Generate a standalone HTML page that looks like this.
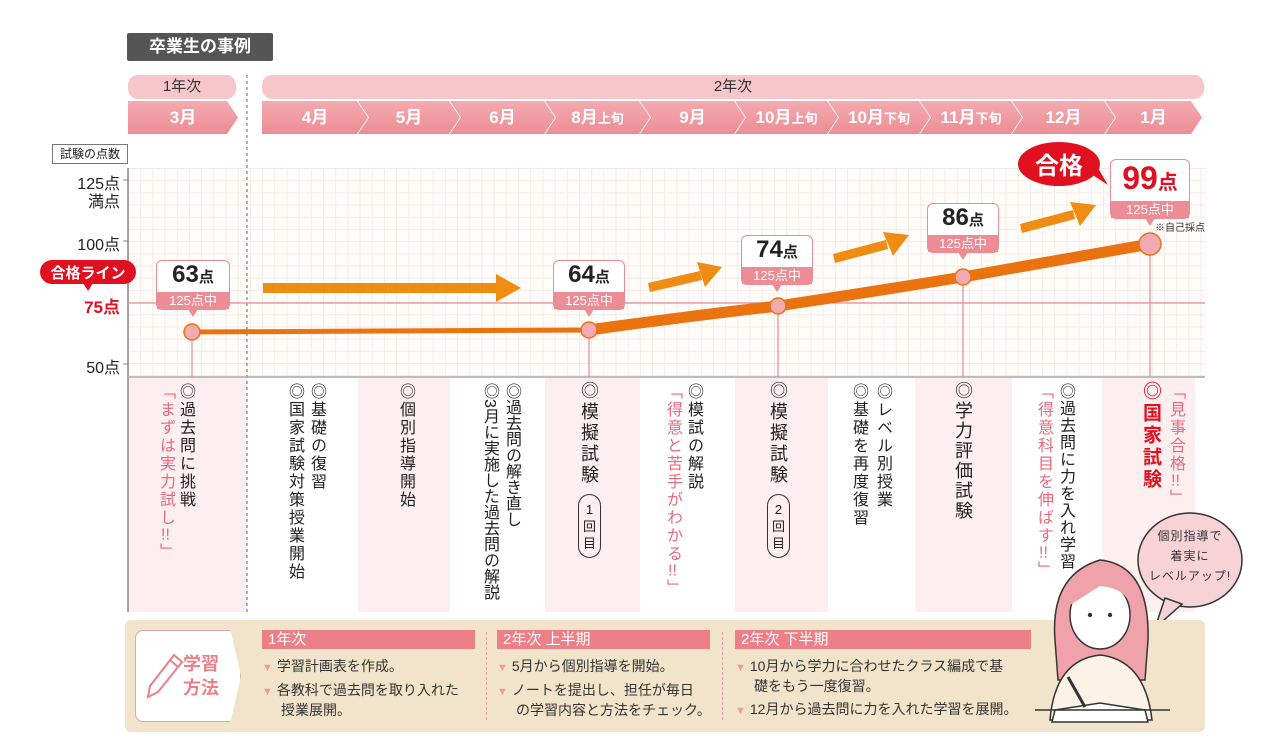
<!DOCTYPE html>
<html><head><meta charset="utf-8">
<style>
*{margin:0;padding:0;box-sizing:border-box}
body{width:1280px;height:755px;background:#fff;position:relative;overflow:hidden;font-family:"Liberation Sans","Noto Sans CJK JP",sans-serif;color:#222}
.a{position:absolute}
.pill{background:#f6c6ca;border-radius:10px;text-align:center;font-size:15px;line-height:24px;color:#333}
.mo{position:absolute;top:101px;height:33px;background:linear-gradient(#f4aab0,#ec8d95);color:#fff;font-size:17px;font-weight:bold;line-height:33px;text-align:center;clip-path:polygon(0 0,calc(100% - 11px) 0,100% 50%,calc(100% - 11px) 100%,0 100%,11px 50%)}
.mo small{font-size:13px}
.tick{position:absolute;right:1160px;font-size:15px;text-align:right;white-space:nowrap}
.stripe{position:absolute;top:378px;height:234px;background:#fdeef0}
.v{position:absolute;writing-mode:vertical-rl;font-size:16px;letter-spacing:2px;line-height:20px;white-space:nowrap}
.v i{font-style:normal;text-combine-upright:all}
.r{color:#ea6a7e}
.box{position:absolute;background:#fff;border:1.5px solid #ec8d95;border-radius:6px;text-align:center;overflow:visible}
.box .n{font-size:24px;font-weight:bold;line-height:28px;color:#222}
.box .n span{font-size:15px}
.box .s{background:#ec8d95;color:#fff;font-size:13px;line-height:17px}
.box:after{content:"";position:absolute;left:50%;margin-left:-5px;bottom:-8px;border:5px solid transparent;border-top:8px solid #ec8d95;border-bottom:0}
.hd{position:absolute;background:#ec7f88;color:#fff;font-size:15px;line-height:19px;padding-left:6px}
.it{position:absolute;font-size:14px;line-height:18px;color:#333}
.it b{color:#ef9aa0;font-size:11px;margin-right:4px}
</style></head><body>

<div class="a" style="left:127px;top:33px;width:146px;height:28px;background:#555;color:#fff;font-weight:bold;font-size:17px;line-height:28px;text-align:center;border-radius:2px">卒業生の事例</div>

<div class="a pill" style="left:128px;top:75px;width:108px">1年次</div>
<div class="a pill" style="left:262px;top:75px;width:942px">2年次</div>

<div class="mo" style="left:128px;width:110px;clip-path:polygon(0 0,calc(100% - 11px) 0,100% 50%,calc(100% - 11px) 100%,0 100%)">3月</div>
<div class="mo" style="left:262px;width:106px;clip-path:polygon(0 0,calc(100% - 11px) 0,100% 50%,calc(100% - 11px) 100%,0 100%)">4月</div>
<div class="mo" style="left:358px;width:102px">5月</div>
<div class="mo" style="left:450px;width:105px">6月</div>
<div class="mo" style="left:545px;width:105px">8月<small>上旬</small></div>
<div class="mo" style="left:640px;width:105px">9月</div>
<div class="mo" style="left:735px;width:103px">10月<small>上旬</small></div>
<div class="mo" style="left:828px;width:102px">10月<small>下旬</small></div>
<div class="mo" style="left:920px;width:102px">11月<small>下旬</small></div>
<div class="mo" style="left:1012px;width:103px">12月</div>
<div class="mo" style="left:1105px;width:97px">1月</div>

<!-- plot grid -->
<div class="a" style="left:128px;top:168px;width:1077px;height:210px;background-color:#fffcfa;background-image:linear-gradient(90deg,#f4ece8 1px,transparent 1px),linear-gradient(#f4ece8 1px,transparent 1px);background-size:12.2px 12.2px"></div>
<div class="stripe" style="left:128px;width:119px"></div>
<div class="stripe" style="left:358px;width:92px"></div>
<div class="stripe" style="left:545px;width:95px"></div>
<div class="stripe" style="left:735px;width:93px"></div>
<div class="stripe" style="left:915px;width:97px"></div>
<div class="stripe" style="left:1102px;width:93px"></div>

<svg class="a" style="left:0;top:0" width="1280" height="755">
<line x1="247" y1="75" x2="247" y2="612" stroke="#666" stroke-dasharray="3,3" stroke-width="1"/>
<line x1="128" y1="168" x2="128" y2="612" stroke="#888" stroke-width="1.5"/>
<line x1="128" y1="377" x2="1205" y2="377" stroke="#aaa" stroke-width="1.5"/>
<g stroke="#888" stroke-width="1"><line x1="123" y1="180" x2="128" y2="180"/><line x1="123" y1="241" x2="128" y2="241"/><line x1="123" y1="364" x2="128" y2="364"/></g>
<line x1="128" y1="303" x2="1205" y2="303" stroke="#e58a98" stroke-width="1.2"/>
<g stroke="#e58a98" stroke-width="1.2">
<line x1="192" y1="332" x2="192" y2="377"/><line x1="589" y1="330" x2="589" y2="377"/><line x1="778" y1="306" x2="778" y2="377"/><line x1="963" y1="277" x2="963" y2="377"/><line x1="1150" y1="244" x2="1150" y2="377"/>
</g>
<g fill="#ef8c12">
<rect x="263" y="283" width="233" height="10"/><polygon points="496,274 521,288 496,302"/>
<polygon points="648,283 700,271 702,280 650,292"/><polygon points="697,262 722,267 705,287"/>
<polygon points="833,254 886,240 888,249 835,263"/><polygon points="883,232 909,235 893,256"/>
<polygon points="1020,224 1073,210 1075,219 1022,233"/><polygon points="1070,202 1096,205 1080,226"/>
</g>
<path d="M192,332 L589,330" stroke="#ea7310" stroke-width="5" fill="none"/>
<path d="M589,330 Q690,316 778,306 Q870,292 963,277 Q1060,260 1150,244" stroke="#ea7310" stroke-width="11" fill="none" stroke-linecap="round"/>
<g fill="#f4aab2" stroke="#ea7310" stroke-width="1.5">
<circle cx="192" cy="332" r="8"/><circle cx="589" cy="330" r="8"/><circle cx="778" cy="306" r="8"/><circle cx="963" cy="277" r="8"/><circle cx="1150" cy="244" r="11"/>
</g>
<ellipse cx="1059" cy="164" rx="41" ry="22" fill="#e01020"/>
<polygon points="1085,170 1108,185 1092,158" fill="#e01020"/>
<text x="1059" y="174" font-size="24" font-weight="bold" fill="#fff" text-anchor="middle" font-family="Liberation Sans,Noto Sans CJK JP,sans-serif">合格</text>
<rect x="40" y="260" width="96" height="24" rx="12" fill="#e01020"/>
<polygon points="83,283 93,283 88,291" fill="#e01020"/>
<text x="88" y="278" font-size="15" font-weight="bold" fill="#fff" text-anchor="middle" font-family="Liberation Sans,Noto Sans CJK JP,sans-serif">合格ライン</text>
<ellipse cx="1190" cy="560" rx="52" ry="47" fill="#f8d3d6" stroke="#333" stroke-width="1.5"/>
<polygon points="1165,598 1155,628 1182,604" fill="#f8d3d6" stroke="#333" stroke-width="1.5"/>
</svg>

<div class="a" style="left:1140px;top:526px;width:100px;font-size:12px;line-height:20px;text-align:center;color:#333;letter-spacing:1px;white-space:nowrap">個別指導で<br>着実に<br>レベルアップ!</div>

<div class="a" style="left:52px;top:144px;width:76px;height:20px;border:1px solid #777;font-size:12px;line-height:18px;text-align:center">試験の点数</div>
<div class="tick" style="top:170px;font-size:16px">125点</div>
<div class="tick" style="top:188px;font-size:16px">満点</div>
<div class="tick" style="top:231px;font-size:16px">100点</div>
<div class="tick" style="top:293px;font-size:17px;color:#e01020;font-weight:bold">75点</div>
<div class="tick" style="top:354px;font-size:16px">50点</div>

<div class="box" style="left:156px;top:260px;width:74px"><div class="n">63<span>点</span></div><div class="s">125点中</div></div>
<div class="box" style="left:553px;top:260px;width:72px"><div class="n">64<span>点</span></div><div class="s">125点中</div></div>
<div class="box" style="left:741px;top:235px;width:72px"><div class="n">74<span>点</span></div><div class="s">125点中</div></div>
<div class="box" style="left:927px;top:203px;width:72px"><div class="n">86<span>点</span></div><div class="s">125点中</div></div>
<div class="box" style="left:1110px;top:159px;width:80px"><div class="n" style="color:#e01020;font-size:32px;line-height:36px">99<span style="font-size:20px">点</span></div><div class="s">125点中</div></div>
<div class="a" style="left:1155px;top:219px;font-size:10px;color:#333">※自己採点</div>

<div class="v" style="left:175px;top:383px">◎過去問に挑戦</div>
<div class="v r" style="left:155px;top:383px">「まずは実力試し<i>!!</i>」</div>
<div class="v" style="left:306px;top:383px">◎基礎の復習</div>
<div class="v" style="left:284px;top:383px">◎国家試験対策授業開始</div>
<div class="v" style="left:395px;top:383px">◎個別指導開始</div>
<div class="v" style="left:501px;top:383px;letter-spacing:0">◎過去問の解き直し</div>
<div class="v" style="left:479px;top:383px;letter-spacing:0">◎3月に実施した過去問の解説</div>
<div class="v" style="left:578px;top:381px;font-size:18px;line-height:22px;letter-spacing:3px">◎模擬試験</div>
<div class="a" style="left:578px;top:494px;width:23px;height:64px;border:1px solid #333;border-radius:12px;font-size:13px;line-height:17px;text-align:center;padding-top:6px">1<br>回<br>目</div>
<div class="v" style="left:683px;top:383px">◎模試の解説</div>
<div class="v r" style="left:662px;top:383px">「得意と苦手がわかる<i>!!</i>」</div>
<div class="v" style="left:767px;top:381px;font-size:18px;line-height:22px;letter-spacing:3px">◎模擬試験</div>
<div class="a" style="left:767px;top:494px;width:23px;height:64px;border:1px solid #333;border-radius:12px;font-size:13px;line-height:17px;text-align:center;padding-top:6px">2<br>回<br>目</div>
<div class="v" style="left:872px;top:383px">◎レベル別授業</div>
<div class="v" style="left:848px;top:383px">◎基礎を再度復習</div>
<div class="v" style="left:952px;top:381px;font-size:18px;line-height:22px;letter-spacing:2px">◎学力評価試験</div>
<div class="v" style="left:1055px;top:383px;letter-spacing:1px">◎過去問に力を入れ学習</div>
<div class="v r" style="left:1033px;top:383px">「得意科目を伸ばす<i>!!</i>」</div>
<div class="v" style="left:1139px;top:381px;font-size:19px;line-height:22px;letter-spacing:3px;color:#e01020;font-weight:bold">◎国家試験</div>
<div class="v r" style="left:1165px;top:383px">「見事合格<i>!!</i>」</div>

<div class="a" style="left:125px;top:620px;width:1080px;height:112px;background:#f2e4ca;border-radius:6px"></div>
<div class="a" style="left:135px;top:630px;width:106px;height:92px;background:#fff;border:1px solid #e9a0a6;border-radius:8px;clip-path:polygon(0 0,90% 0,100% 50%,90% 100%,0 100%)"></div>
<svg class="a" style="left:140px;top:645px" width="45" height="60">
<g stroke="#ec7f88" stroke-width="2" fill="none"><polygon points="10,41 34,10 42,17 18,47 8,52"/><line x1="30" y1="15" x2="38" y2="22"/></g>
</svg>
<div class="a" style="left:183px;top:652px;font-size:18px;line-height:24px;font-weight:bold;color:#ec7f88">学習<br>方法</div>

<div class="hd" style="left:262px;top:630px;width:213px">1年次</div>
<div class="it" style="left:262px;top:657px"><b>▼</b>学習計画表を作成。</div>
<div class="it" style="left:262px;top:681px"><b>▼</b>各教科で過去問を取り入れた<br><span style="margin-left:19px">授業展開。</span></div>
<div class="a" style="left:486px;top:632px;height:88px;border-left:1px dashed #e9a0a6"></div>
<div class="hd" style="left:497px;top:630px;width:213px">2年次 上半期</div>
<div class="it" style="left:497px;top:657px"><b>▼</b>5月から個別指導を開始。</div>
<div class="it" style="left:497px;top:681px"><b>▼</b>ノートを提出し、担任が毎日<br><span style="margin-left:19px">の学習内容と方法をチェック。</span></div>
<div class="a" style="left:722px;top:632px;height:88px;border-left:1px dashed #e9a0a6"></div>
<div class="hd" style="left:735px;top:630px;width:296px">2年次 下半期</div>
<div class="it" style="left:735px;top:657px"><b>▼</b>10月から学力に合わせたクラス編成で基<br><span style="margin-left:19px">礎をもう一度復習。</span></div>
<div class="it" style="left:735px;top:700px"><b>▼</b>12月から過去問に力を入れた学習を展開。</div>

<svg class="a" style="left:1030px;top:550px" width="180" height="180">
<path d="M25,90 Q20,25 70,10 Q120,15 118,90 L115,130 L28,130 Z" fill="#f0a2aa" stroke="#333" stroke-width="1.5"/>
<ellipse cx="70" cy="65" rx="30" ry="34" fill="#fff" stroke="#333" stroke-width="1.5"/>
<path d="M40,55 Q50,28 70,30 Q92,28 100,55 Q95,38 70,36 Z" fill="#f0a2aa"/>
<circle cx="60" cy="65" r="2.2" fill="#333"/><circle cx="80" cy="65" r="2.2" fill="#333"/>
<path d="M20,170 Q25,110 70,105 Q115,110 122,170 Z" fill="#fdf2e8" stroke="#333" stroke-width="1.5"/>
<polygon points="25,160 70,153 115,160 118,172 22,172" fill="#fff" stroke="#333" stroke-width="1.5"/>
<line x1="5" y1="160" x2="140" y2="160" stroke="#333" stroke-width="1.5"/>
<line x1="38" y1="127" x2="55" y2="157" stroke="#333" stroke-width="3"/>
</svg>
</body></html>
